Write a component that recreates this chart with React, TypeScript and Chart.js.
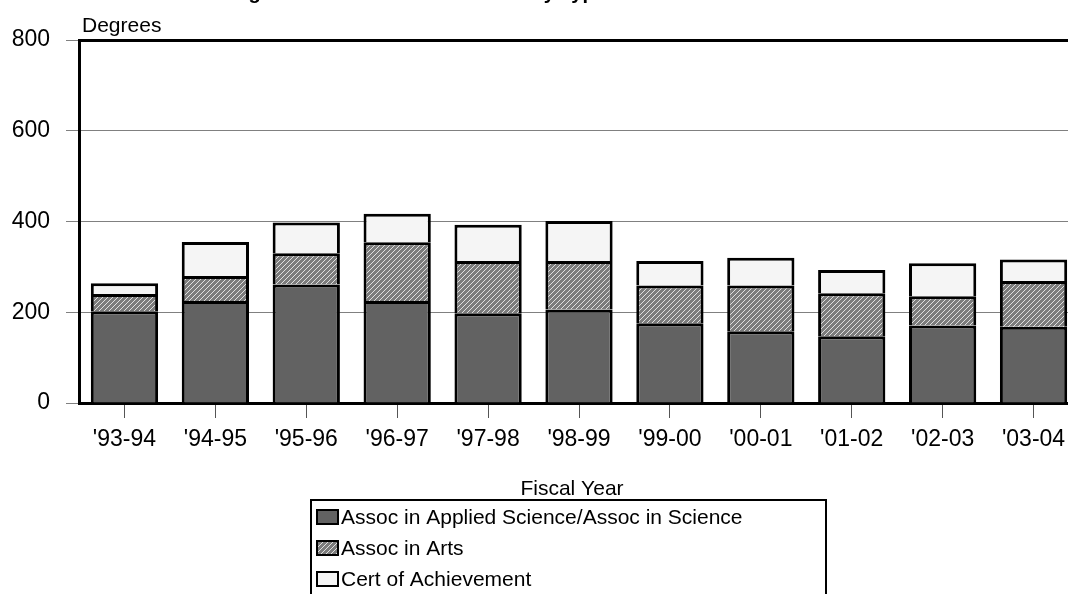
import React, { useEffect, useRef } from "react";
import { Chart, registerables } from "chart.js";

Chart.register(...registerables);

const TITLE = "Degrees & Certificates Awarded by Type";
const Y_TITLE = "Degrees";
const X_TITLE = "Fiscal Year";

const categories = ["'93-94", "'94-95", "'95-96", "'96-97", "'97-98", "'98-99", "'99-00", "'00-01", "'01-02", "'02-03", "'03-04"];
const seriesLabels = ["Assoc in Applied Science/Assoc in Science", "Assoc in Arts", "Cert of Achievement"];
const appliedScience = [202, 225, 261, 225, 198, 206, 176, 158, 147, 171, 168];
const assocArts = [38, 55, 69, 129, 115, 107, 83, 101, 95, 64, 101];
const certAchievement = [24, 75, 68, 63, 80, 88, 54, 61, 51, 73, 47];
const yMin = 0;
const yMax = 800;
const yStep = 200;

const FONT = '"Liberation Sans", Arial, sans-serif';

function makeHatch(): CanvasPattern | string {
  const c = document.createElement("canvas");
  c.width = 5;
  c.height = 5;
  const g = c.getContext("2d");
  if (!g) return "#888";
  g.fillStyle = "#7c7c7c";
  g.fillRect(0, 0, 5, 5);
  g.strokeStyle = "#e0e0e0";
  g.lineWidth = 1;
  g.beginPath();
  g.moveTo(0, 5);
  g.lineTo(5, 0);
  g.moveTo(-1, 1);
  g.lineTo(1, -1);
  g.moveTo(4, 6);
  g.lineTo(6, 4);
  g.stroke();
  return g.createPattern(c, "repeat") || "#888";
}

export default function App() {
  const ref = useRef<HTMLCanvasElement | null>(null);

  useEffect(() => {
    const canvas = ref.current;
    if (!canvas) return;
    const hatch = makeHatch();
    const fills: any[] = ["#626262", hatch, "#f5f5f5"];

    const extras = {
      id: "extras",
      afterDraw(chart: any) {
        const ctx = chart.ctx as CanvasRenderingContext2D;
        const area = chart.chartArea;
        ctx.save();
        // cropped title (only descenders visible in the reference)
        ctx.fillStyle = "#000";
        ctx.font = `bold 20px ${FONT}`;
        ctx.textAlign = "left";
        ctx.textBaseline = "alphabetic";
        ctx.fillText(TITLE, 223, -1);
        // y-axis title
        ctx.font = `21px ${FONT}`;
        ctx.fillText(Y_TITLE, area.left + 3, 32);
        // x-axis title
        ctx.textAlign = "center";
        ctx.textBaseline = "middle";
        ctx.fillText(X_TITLE, 572, 489);
        // legend
        const lx = 311, ly = 500, lw = 515, lh = 140;
        ctx.lineWidth = 2;
        ctx.strokeStyle = "#000";
        ctx.strokeRect(lx, ly, lw, lh);
        const rows = [517, 548, 579];
        ctx.textAlign = "left";
        ctx.font = `21px ${FONT}`;
        seriesLabels.forEach((lab, i) => {
          const cy = rows[i];
          ctx.fillStyle = fills[i];
          ctx.fillRect(317, cy - 7, 21, 14);
          ctx.lineWidth = 2;
          ctx.strokeStyle = "#000";
          ctx.strokeRect(317, cy - 7, 21, 14);
          ctx.fillStyle = "#000";
          ctx.fillText(lab, 341, cy + 1);
        });
        ctx.restore();
      },
    };

    const common = { borderColor: "#000", borderWidth: 3, barPercentage: 0.74, categoryPercentage: 1 };

    const chart = new Chart(canvas, {
      type: "bar",
      data: {
        labels: categories,
        datasets: [
          { label: seriesLabels[0], data: appliedScience, backgroundColor: fills[0], ...common },
          { label: seriesLabels[1], data: assocArts, backgroundColor: fills[1], ...common },
          { label: seriesLabels[2], data: certAchievement, backgroundColor: fills[2], ...common },
        ],
      },
      options: {
        responsive: false,
        animation: false,
        devicePixelRatio: 1,
        layout: { padding: { top: 40, left: 0, right: 11, bottom: 0 } },
        plugins: {
          legend: { display: false },
          title: { display: false },
          tooltip: { enabled: false },
        },
        scales: {
          x: {
            stacked: true,
            offset: true,
            grid: {
              offset: false,
              drawOnChartArea: false,
              drawTicks: true,
              tickLength: 15,
              tickColor: "#555",
              tickWidth: 1,
            },
            border: { display: true, color: "#000", width: 3 },
            ticks: { color: "#000", font: { family: FONT, size: 23 }, padding: 8, maxRotation: 0, autoSkip: false },
            afterFit: (s: any) => { s.height = 640 - 403; },
          },
          y: {
            stacked: true,
            min: yMin,
            max: yMax,
            ticks: { stepSize: yStep, color: "#000", font: { family: FONT, size: 23 }, padding: 16 },
            grid: {
              color: (c: any) => (c.tick && c.tick.value === yMax ? "#000" : "#808080"),
              lineWidth: (c: any) => (c.tick && c.tick.value === yMax ? 3 : 1),
              tickColor: "#808080",
              tickWidth: 1,
              tickLength: 13,
            },
            border: { display: true, color: "#000", width: 3 },
            afterFit: (s: any) => { s.width = 79; },
          },
        },
      },
      plugins: [extras],
    });
    return () => chart.destroy();
  }, []);

  return (
    <div style={{ position: "absolute", left: 0, top: 0, width: 1068, height: 594, overflow: "hidden", background: "#fff" }}>
      <canvas ref={ref} width={1090} height={640} style={{ display: "block", position: "absolute", left: 0, top: 0 }} />
    </div>
  );
}
